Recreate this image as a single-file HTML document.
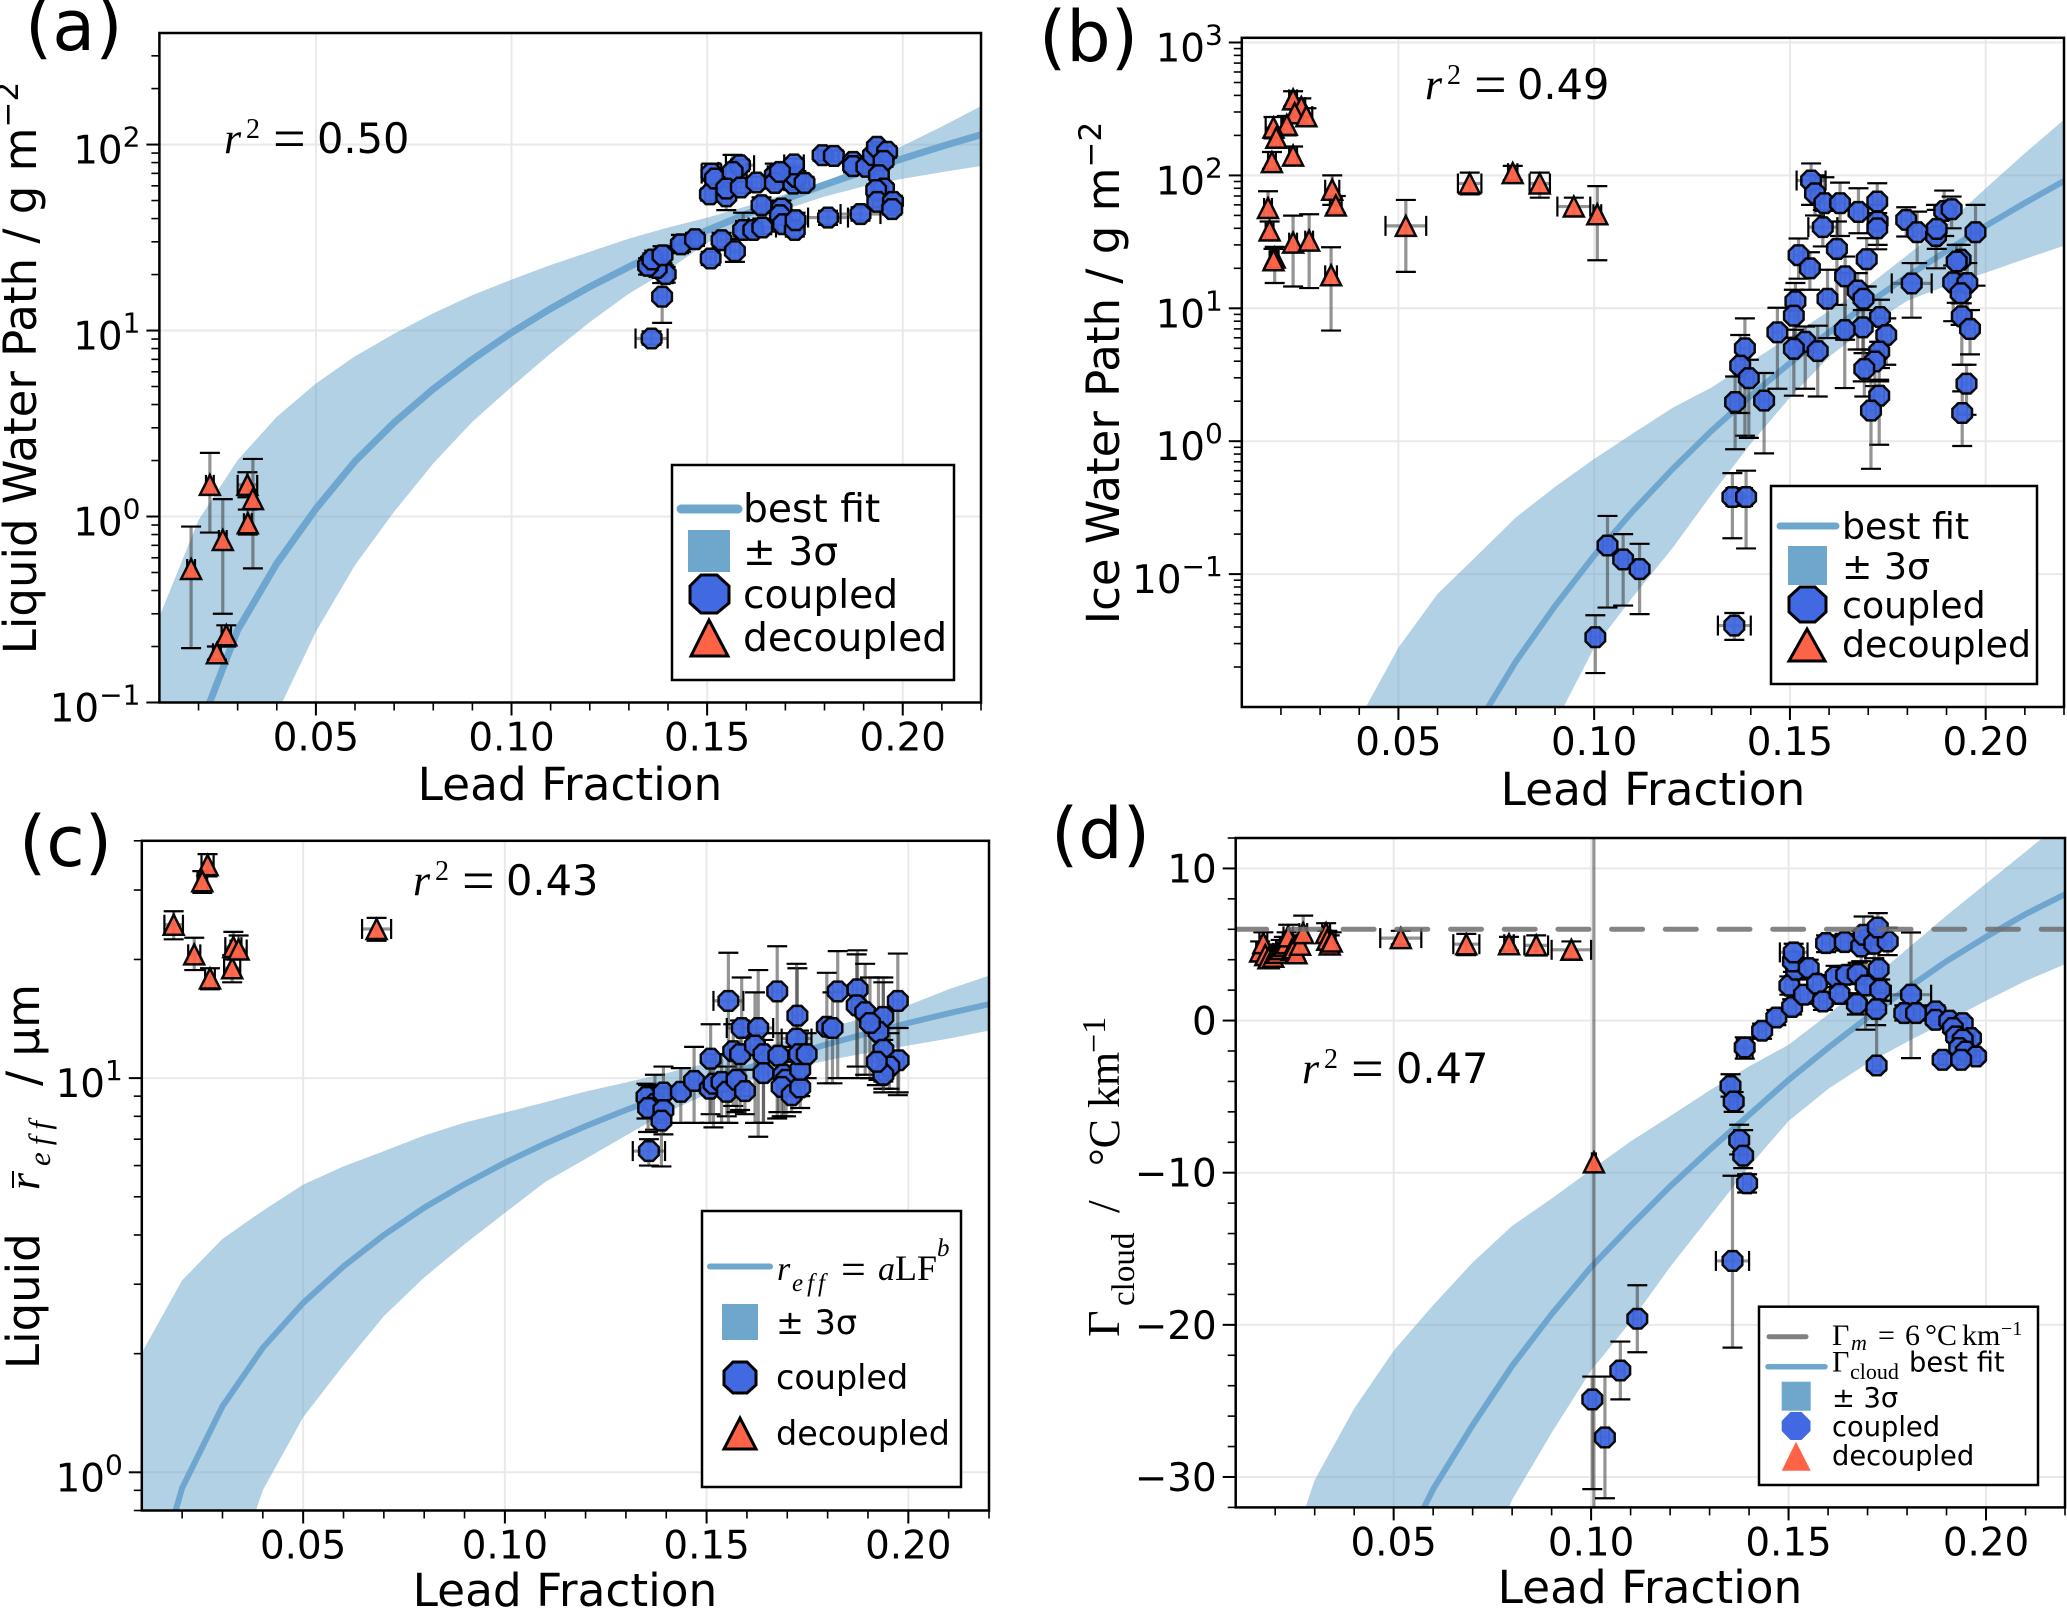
<!DOCTYPE html>
<html lang="en">
<head>
<meta charset="utf-8">
<title>Lead Fraction regressions</title>
<style>
html,body{margin:0;padding:0;background:#fff;}
body{position:relative;width:2067px;height:1609px;overflow:hidden;}
svg{display:block;}
text{font-family:"DejaVu Sans",sans-serif;fill:#000;}
.serif{font-family:"Liberation Serif",serif;}
.it{font-family:"Liberation Serif",serif;font-style:italic;}
.xtitle{position:absolute;height:36px;line-height:36px;font-size:45.4px;font-family:"DejaVu Sans",sans-serif;color:#000;text-align:center;white-space:nowrap;}
</style>
</head>
<body>
<svg id="fig" xmlns="http://www.w3.org/2000/svg" width="2067" height="1609" viewBox="0 0 2067 1609">
<rect width="2067" height="1609" fill="#fff"/>
<defs>
<clipPath id="clip-a"><rect x="159.4" y="33" width="821.6" height="669.5"/></clipPath>
<clipPath id="clip-b"><rect x="1241.8" y="37.8" width="822.2" height="669.2"/></clipPath>
<clipPath id="clip-c"><rect x="141.8" y="840.8" width="847.2" height="669.7"/></clipPath>
<clipPath id="clip-d"><rect x="1235.7" y="838" width="829.3" height="669.4"/></clipPath>
</defs>

<!-- Panel A -->
<g>
<g id="plot-a"></g>
<text x="25" y="50" font-size="70">(a)</text>
<text x="570" y="800" font-size="45.4" text-anchor="middle">Lead Fraction</text>
<text transform="translate(36,368) rotate(-90)" font-size="45" text-anchor="middle">Liquid Water Path / g m<tspan font-size="31" dy="-18">−2</tspan></text>
<g>
<text class="it" x="224" y="153" font-size="44">r</text><text class="serif" x="246" y="138" font-size="28">2</text><text class="serif" x="273" y="158" font-size="58">=</text><text x="317" y="153" font-size="41.5">0.50</text>
</g>
<g>
<rect x="672" y="465" width="282" height="215" fill="#fff" stroke="#000" stroke-width="2.5"/>
<line x1="681" y1="509" x2="738" y2="509" stroke="#6ea6cc" stroke-width="9" stroke-linecap="round"/>
<text x="743" y="522" font-size="39.2">best fit</text>
<rect x="688" y="530" width="42" height="42" fill="#6ea6cc"/>
<text x="743" y="565" font-size="39.2">± 3σ</text>
<polygon points="701,575 717,575 729,586 729,603 717,613 701,613 690,603 690,586" fill="#4169e1" stroke="#000" stroke-width="3"/>
<text x="743" y="608" font-size="39.2">coupled</text>
<polygon points="709,620 728,656 691,656" fill="#ff6347" stroke="#000" stroke-width="3"/>
<text x="743" y="651" font-size="39.2">decoupled</text>
</g>
</g>

<!-- Panel B -->
<g>
<g id="plot-b"></g>
<text x="1039" y="61" font-size="70">(b)</text>
<text x="1653" y="805" font-size="45.4" text-anchor="middle">Lead Fraction</text>
<text transform="translate(1119,373) rotate(-90)" font-size="45" text-anchor="middle">Ice Water Path / g m<tspan font-size="31" dy="-18">−2</tspan></text>
<g>
<text class="it" x="1425" y="99" font-size="44">r</text><text class="serif" x="1447" y="84" font-size="28">2</text><text class="serif" x="1474" y="104" font-size="58">=</text><text x="1517" y="99" font-size="41.5">0.49</text>
</g>
<g>
<rect x="1771" y="486" width="266" height="198" fill="#fff" stroke="#000" stroke-width="2.5"/>
<line x1="1780" y1="526" x2="1836" y2="526" stroke="#6ea6cc" stroke-width="7" stroke-linecap="round"/>
<text x="1842" y="539" font-size="36.3">best fit</text>
<rect x="1788" y="546" width="39" height="39" fill="#6ea6cc"/>
<text x="1842" y="579" font-size="36.3">± 3σ</text>
<polygon points="1800,587 1815,587 1826,597 1826,612 1815,622 1800,622 1789,612 1789,597" fill="#4169e1" stroke="#000" stroke-width="3"/>
<text x="1842" y="618" font-size="36.3">coupled</text>
<polygon points="1807,629 1825,661 1789,661" fill="#ff6347" stroke="#000" stroke-width="3"/>
<text x="1842" y="657" font-size="36.3">decoupled</text>
</g>
</g>

<!-- Panel C -->
<g>
<g id="plot-c"></g>
<text x="19" y="866" font-size="70">(c)</text>
<g>
<text transform="translate(39,1369) rotate(-90)" font-size="45">Liquid</text>
<text class="it" transform="translate(39,1190) rotate(-90)" font-size="44">r</text>
<line x1="13" y1="1188" x2="13" y2="1171" stroke="#000" stroke-width="2"/>
<text class="it" transform="translate(50,1166) rotate(-90)" font-size="31" letter-spacing="7">eff</text>
<text transform="translate(39,1086) rotate(-90)" font-size="45">/ µm</text>
</g>
<g>
<text class="it" x="413" y="895" font-size="44">r</text><text class="serif" x="435" y="880" font-size="28">2</text><text class="serif" x="462" y="900" font-size="58">=</text><text x="506" y="895" font-size="41.5">0.43</text>
</g>
<g>
<rect x="702" y="1211" width="259" height="276" fill="#fff" stroke="#000" stroke-width="2.5"/>
<line x1="710" y1="1266.5" x2="770" y2="1266.5" stroke="#6ea6cc" stroke-width="6" stroke-linecap="round"/>
<g>
<text class="it" x="777" y="1280" font-size="34">r</text>
<text class="it" x="792" y="1291" font-size="25" letter-spacing="4">eff</text>
<text class="serif" x="841" y="1284" font-size="44">=</text>
<text class="it" x="878" y="1280" font-size="34">a</text>
<text class="serif" x="895" y="1280" font-size="36">LF</text>
<text class="it" x="937" y="1256" font-size="25">b</text>
</g>
<rect x="722" y="1304" width="36" height="36" fill="#6ea6cc"/>
<text x="776" y="1334" font-size="33.4">± 3σ</text>
<polygon points="733,1362 747,1362 756,1371 756,1385 747,1393 733,1393 724,1385 724,1371" fill="#4169e1" stroke="#000" stroke-width="3"/>
<text x="776" y="1389" font-size="33.4">coupled</text>
<polygon points="740,1418 756,1449 724,1449" fill="#ff6347" stroke="#000" stroke-width="3"/>
<text x="776" y="1445" font-size="33.4">decoupled</text>
</g>
</g>

<!-- Panel D -->
<g>
<g id="plot-d"></g>
<text x="1051" y="858" font-size="70">(d)</text>
<g>
<text class="serif" transform="translate(1119,1337) rotate(-90)" font-size="46">Γ</text>
<text class="serif" transform="translate(1134,1306) rotate(-90)" font-size="33">cloud</text>
<text class="serif" transform="translate(1119,1213) rotate(-90)" font-size="46">/</text>
<text class="serif" transform="translate(1119,1166) rotate(-90)" font-size="44">°C km</text>
<text class="serif" transform="translate(1105,1053) rotate(-90)" font-size="34">−1</text>
</g>
<g>
<text class="it" x="1302" y="1083" font-size="44">r</text><text class="serif" x="1324" y="1068" font-size="28">2</text><text class="serif" x="1351" y="1088" font-size="58">=</text><text x="1396" y="1083" font-size="41.5">0.47</text>
</g>
<g>
<rect x="1759" y="1306.7" width="279" height="178.3" fill="#fff" stroke="#000" stroke-width="2.5"/>
<line x1="1769" y1="1336.7" x2="1806" y2="1336.7" stroke="#808080" stroke-width="5" stroke-linecap="round"/>
<g>
<text class="serif" x="1832" y="1345" font-size="30">Γ</text>
<text class="it" x="1851" y="1350" font-size="22">m</text>
<text class="serif" x="1878" y="1345" font-size="30">=</text>
<text class="serif" x="1905" y="1345" font-size="30">6</text>
<text class="serif" x="1925" y="1345" font-size="30">°C</text>
<text class="serif" x="1962" y="1345" font-size="30">km</text>
<text class="serif" x="2001" y="1335" font-size="20">−1</text>
</g>
<line x1="1768" y1="1366.7" x2="1825" y2="1366.7" stroke="#6ea6cc" stroke-width="5.5" stroke-linecap="round"/>
<g>
<text class="serif" x="1832" y="1371.7" font-size="30">Γ</text>
<text class="serif" x="1850" y="1379" font-size="22">cloud</text>
<text x="1909" y="1371.7" font-size="27.3">best fit</text>
</g>
<rect x="1781.7" y="1381.7" width="29" height="29" fill="#6ea6cc"/>
<text x="1832" y="1407" font-size="27.3">± 3σ</text>
<polygon points="1790.5,1412 1801.5,1412 1810.5,1421 1810.5,1431 1801.5,1440 1790.5,1440 1781.7,1431 1781.7,1421" fill="#4169e1"/>
<text x="1832" y="1436" font-size="27.3">coupled</text>
<polygon points="1796,1441.7 1810.7,1470.7 1781.7,1470.7" fill="#ff6347"/>
<text x="1832" y="1465" font-size="27.3">decoupled</text>
</g>
</g>
</svg>
<div class="xtitle" style="left:265px;width:600px;top:1573px;">Lead Fraction</div>
<div class="xtitle" style="left:1350px;width:600px;top:1570px;">Lead Fraction</div>

<script>
/* Shared grid for the fitted curves */
const fitLF = [0.01,0.02,0.03,0.04,0.05,0.06,0.07,0.08,0.09,0.10,0.11,0.12,0.13,0.14,0.15,0.16,0.17,0.18,0.19,0.20,0.21,0.22];
const xTickValues = [0.05,0.10,0.15,0.20];
const xTickLabels = ['0.05','0.10','0.15','0.20'];

/* Panel A: liquid water path */
const aYExponents = [-1,0,1,2];
const aFit = [0.008,0.07,0.245,0.56,1.10,1.98,3.2,4.85,7.0,9.75,13.1,17.2,22,27.9,34.6,42.3,50.9,60.8,71.8,84.1,97.9,113];
const aUpper = [0.289,0.957,2.01,3.44,5.19,7.28,9.6,12.4,15.5,18.8,22.5,26.5,31.2,35.8,40.5,46.5,54.2,63.4,76.7,98.6,125,161];
const aLower = [0.0003,0.004,0.025,0.087,0.24,0.548,1.06,1.93,3.23,4.98,7.53,11.1,15.8,21.1,29.7,37,44.8,52.5,59.6,65.5,71.1,76.7];
const aCoupledLF = [.1358,.1385,.1394,.1371,.1349,.1360,.1386,.1433,.1469,.1509,.1537,.1571,.1592,.1618,.1641,.1639,.1690,.1686,.1694,.1724,.1726,.1809,.1892,.1507,.1549,.1511,.1520,.1584,.1565,.1549,.1586,.1626,.1673,.1673,.1720,.1728,.1749,.1722,.1686,.1795,.1824,.1873,.1873,.1907,.1924,.1934,.1960,.1951,.1939,.1952,.1932,.1935,.1975,.1973];
const aCoupledY = [9.06,15.2,20.1,21.7,22.3,24.1,25.4,29.1,31,24.4,30.6,26.7,34.7,34.7,35.8,47.2,45.3,41.7,37.3,34.7,39.2,40.5,42.3,54,52.7,69.8,65.6,77.4,71.3,58,58.8,62.5,68.4,62.2,61.7,67,62.2,78.2,71.3,87.7,86.9,80.7,76.6,75.9,87.7,97.3,91.4,81.7,68.4,58,56.9,49.2,49.2,45];
const aCoupledLo = [8.4,11,18.1,19.8,20,22,23,26.5,28.5,22.5,28,23.4,32,32,33,43,41,38,34,32,36,37,39,50,44.4,64,60,72,65,54,55,58,63,58,57,62,58,73,66,82,81,75,71,70,82,91,85,76,64,54,53,46,46,42];
const aCoupledHi = [9.9,18,22,23.8,24.5,26,28.4,32.7,33.5,26.5,33.5,31,43,38,40,52,50,46,41,38,43,44,46,58,60,79,71,83,88,62,63,67,79,67,66,72,67,84,77,93,93,86,82,81,93,103,98,87,73,62,61,53,53,48];
const aCoupledXErr = [.0041,.0012,.0018,.0018,.0018,.0018,.0012,.0018,.0012,.0012,.0012,.0012,.0018,.0012,.0035,.0012,.0012,.0012,.0012,.0012,.0012,.0051,.0051,.0012,.0012,.0025,.0012,.0036,.0036,.0012,.0012,.0012,.0018,.0012,.0012,.0012,.0012,.0025,.0012,.0012,.0012,.0012,.0012,.0012,.0012,.0012,.0012,.0012,.0012,.0012,.0012,.0012,.0012,.0012];
const aDecoupledLF = [.0181,.0229,.0262,.0271,.0247,.0325,.0339,.0326];
const aDecoupledY = [.522,1.48,.748,.23,.184,1.48,1.24,.92];
const aDecoupledLo = [.196,.82,.3,.2,.17,1.27,.526,.8];
const aDecoupledHi = [.883,2.2,1.24,.26,.2,1.73,2.04,1.09];
const aDecoupledXErr = [.001,.001,.001,.0012,.001,.0025,.001,.001];

/* Panel B: ice water path */
const bYExponents = [-1,0,1,2,3];
const bFit = [8e-10,2.4e-7,6.8e-6,7.2e-5,4.6e-4,.002,.0072,.022,.0575,.138,.30,.617,1.2,2.2,3.87,6.6,10.9,17.4,27,41.7,62,90.7];
const bUpper = [1e-9,1e-6,2.5e-4,.0081,.028,.071,.137,.267,.453,.736,1.15,1.78,2.54,3.95,6.13,9.54,14.8,25.2,42.8,79.8,147,262];
const bLower = [1e-17,1e-13,1e-10,1e-8,1e-6,2e-5,2e-4,.0015,.0075,.028,.068,.157,.397,.96,2.13,4.31,7.32,11.4,14.8,18.5,23.5,29.6];
const bCoupledLF = [.1554,.1564,.1588,.1628,.1675,.1723,.1724,.1723,.1584,.1620,.1696,.1522,.1551,.1641,.1673,.1688,.1596,.1514,.1510,.1730,.1686,.1640,.1468,.1539,.1510,.1571,.1746,.1728,.1717,.1690,.1728,.1707,.1385,.1373,.1395,.1360,.1434,.1797,.1825,.1811,.1894,.1913,.1873,.1875,.1974,.1936,.1926,.1917,.1953,.1936,.1939,.1960,.1951,.1940,.1353,.1388,.1034,.1074,.1116,.1003,.1358];
const bCoupledY = [91.5,73.4,61.8,61.8,53.1,63.6,45,40,40.8,28,23.4,25.1,20,17.4,13.6,11.8,11.8,11.3,8.8,8.6,7.2,6.85,6.6,5.6,4.96,4.76,6.3,4.73,3.98,3.5,2.2,1.7,5,3.7,2.98,1.97,2.02,46.3,37.4,15.4,54,55.7,35,39.6,37.4,23.2,22.5,15.7,15.5,13,8.7,7,2.71,1.63,.38,.38,.164,.129,.109,.0335,.041];
const bCoupledLo = [60,50,54.1,35,36.7,40,30,27.8,29.2,10.6,14.6,16.7,13.8,5.8,4.9,4.6,5.97,6,6,3.55,2.82,2.51,2.48,2.48,2.2,2.17,3.76,2.82,2.6,2.17,.94,.62,1.1,1.63,1.06,.87,.81,34.7,21.9,8.5,35,40,20,28,14.8,10.9,11,8,9.7,7.5,3.76,4.5,1.58,.92,.186,.156,.056,.058,.05,.018,.032];
const bCoupledHi = [123,100,96.9,88.3,80,87.3,60,52,55,45,33.7,33.5,26.4,24.5,18.4,14.6,19.5,15.5,13.8,11.6,9.7,18.4,10.1,7.3,6.9,7.4,8.4,5.6,4.9,4.9,2.9,2.82,8.4,6.3,4.1,3.07,3.26,57.6,53.4,21.9,76.9,69.3,60,55,60,30,30,21,21.9,18,10.9,9.7,3.76,2.37,.575,.6,.274,.2,.169,.049,.051];
const bCoupledXErr = [.0037,.0012,.0012,.0012,.0012,.0012,.0012,.0012,.0037,.0012,.0012,.0012,.0012,.0012,.0012,.0012,.0012,.0012,.0012,.0012,.0012,.0012,.0012,.0012,.0012,.0012,.0012,.0012,.0012,.0012,.0012,.0012,.0012,.0012,.0012,.0012,.0012,.0012,.0012,.0051,.0012,.0012,.0012,.0012,.0012,.0012,.0012,.0012,.0012,.0012,.0012,.0012,.0012,.0012,.0015,.0015,.0012,.0012,.0012,.0012,.0042];
const bDecoupledLF = [.0231,.0252,.0235,.0265,.0215,.0181,.0188,.0177,.0231,.0167,.0171,.0184,.0181,.0231,.0272,.0328,.0331,.0340,.0519,.0682,.0792,.0861,.0948,.1008];
const bDecoupledY = [373,327,294,279,240,229,192,126,141,56.9,38.5,24.1,23,31.2,32.3,17.7,78,59.4,41.7,86.9,104,86.9,58.3,51];
const bDecoupledLo = [330,290,250,240,200,190,165,112,120,48,33,15.5,20,14.6,14.2,6.8,60,52,18.8,72,92,68,50,23];
const bDecoupledHi = [430,380,340,320,280,275,225,150,165,76,45,29,28,49.8,51,28.8,100,70,65.4,105,118,105,68,83];
const bDecoupledXErr = [.001,.001,.001,.0015,.001,.002,.001,.001,.001,.001,.001,.001,.001,.001,.001,.0015,.0018,.0015,.0052,.003,.0012,.0026,.0042,.001];

/* Panel C: liquid effective radius */
const cYExponents = [0,1];
const cFit = [.403,.912,1.47,2.07,2.69,3.33,4.0,4.69,5.38,6.1,6.82,7.55,8.3,9.06,9.84,10.6,11.4,12.2,13,13.8,14.6,15.4];
const cUpper = [2.01,3.07,3.91,4.61,5.37,5.97,6.53,7.15,7.71,8.18,8.69,9.25,9.75,10.3,10.9,11.6,12.5,13.4,14.3,15.3,16.8,18.2];
const cLower = [.07,.2,.45,.9,1.38,1.87,2.49,3.12,3.79,4.55,5.45,6.24,7.15,8.18,9.1,9.8,10.5,11.1,11.6,12.1,12.6,13.2];
const cCoupledLF = [.1351,.1372,.1355,.1393,.1393,.1388,.1357,.1436,.1469,.1510,.1508,.1517,.1537,.1550,.1554,.1574,.1595,.1587,.1628,.1566,.1583,.1620,.1641,.1641,.1675,.1678,.1690,.1697,.1686,.1711,.1732,.1732,.1725,.1723,.1729,.1748,.1798,.1812,.1825,.1874,.1872,.1893,.1938,.1974,.1926,.1905,.1938,.1976,.1953,.1938,.1922];
const cCoupledY = [8.96,8.6,8.4,9.19,8.3,7.8,6.53,9.23,9.84,11.2,9.4,9.68,9.78,9.23,15.7,9.9,9.27,13.4,13.4,11.7,11.5,12.1,11.5,10.3,16.6,11.4,10.2,9.9,9.5,9.05,9.47,10.5,14.4,12.6,11.5,11.5,13.5,13.4,16.6,16.8,15.3,14.7,14.3,15.7,13.1,13.8,11.8,11.1,10.7,10.2,11];
const cCoupledLo = [7.9,7.4,7.3,7.7,7.2,5.97,6,7.7,7.7,8.1,7.7,7.5,7.7,8,7.7,8.2,8.1,9,7.1,8.5,8.3,7.7,7.7,7.7,7.9,8.2,8,8,8,8.2,8.4,9,9,10,9.7,10,9.7,9.7,10,10,10.7,10.2,9.8,9.05,9.9,10,9.4,9.2,9.4,9.2,9.6];
const cCoupledHi = [9.68,10.2,9.6,10.7,9.4,9.5,7,10.6,12,13.7,11,11.5,11.5,10.7,20.8,11.8,10.5,18,18.8,13.7,14,16.5,13,12.5,21.6,13,12,12,11,10,10.6,12,19,19.5,13.2,13,18.5,16.5,21,21.1,20.6,19.5,18,20.7,18,18,17.5,13.4,13,12.5,13];
const cCoupledXErr = [.0012,.0012,.0012,.0012,.0012,.0012,.004,.0012,.0012,.0012,.0012,.0012,.0012,.0012,.0037,.0012,.0012,.0037,.0037,.0012,.0012,.0012,.0012,.0012,.0012,.0012,.0012,.0012,.0012,.0012,.0012,.0012,.0012,.0037,.0012,.0012,.0012,.0012,.0012,.0012,.0012,.0012,.0012,.0012,.0012,.0012,.0012,.0012,.0012,.0012,.0012];
const cDecoupledLF = [.0179,.0263,.0250,.0230,.0269,.0324,.0327,.0340,.0682];
const cDecoupledY = [24.5,34.7,31.6,20.6,17.9,19,21.5,21.2,23.9];
const cDecoupledLo = [22.5,32.5,29.5,18.8,16.8,17.5,20,20,22.3];
const cDecoupledHi = [26.5,37,33.5,22.7,19,20.5,23.5,23,25.5];
const cDecoupledXErr = [.0023,.0015,.0012,.0015,.0012,.002,.002,.002,.0036];

/* Panel D: in-cloud lapse rate */
const dYTicks = [10,0,-10,-20,-30];
const dYTickLabels = ['10','0','−10','−20','−30'];
const dReference = [6];
const dFit = [-80,-65,-52,-42,-36,-30.8,-26.6,-22.7,-19.3,-16.2,-13.5,-10.9,-8.5,-6.2,-3.9,-1.8,.2,2.1,3.9,5.5,7.0,8.3];
const dUpper = [-50,-38,-30.2,-25.5,-21.7,-18.7,-15.9,-13.5,-11.7,-9.8,-7.94,-6.28,-4.59,-3.01,-1.59,.4,2.5,4.7,6.9,9.0,11.1,13.2];
const dLower = [-95,-85,-75,-65,-55,-45,-38,-31.5,-27.1,-23,-19.8,-16.2,-12.9,-9.6,-6.6,-4.5,-2.8,-1.4,-.07,1.3,2.6,3.7];
const dCoupledLF = [.1353,.1361,.1375,.1385,.1395,.1358,.1117,.1074,.1003,.1035,.1389,.1433,.1469,.1509,.1502,.1519,.1511,.1513,.1551,.1539,.1572,.1587,.1595,.1642,.1619,.1646,.1629,.1675,.1673,.1695,.1732,.1728,.1722,.1684,.1690,.1717,.1751,.1726,.1723,.1810,.1793,.1823,.1872,.1872,.1907,.1941,.1916,.1924,.1962,.1941,.1932,.1949,.1975,.1890,.1937];
const dCoupledY = [-4.3,-5.32,-7.86,-8.88,-10.7,-15.8,-19.6,-23,-24.9,-27.4,-1.77,-.67,.2,.89,2.29,3.34,3.89,4.48,3.45,1.7,2.42,1.26,5.09,5.16,2.9,3.01,1.76,3.07,1.08,2.31,2.02,3.38,.75,4.87,5.64,5.05,5.2,6.12,-2.95,1.7,.49,.49,.6,.05,-.01,-.17,-.49,-1.04,-1.15,-1.26,-1.8,-2.03,-2.36,-2.58,-2.58];
const dCoupledLo = [-5,-6,-8.8,-9.7,-11.3,-21.5,-21.8,-24.9,-30.8,-31.4,-2.5,-1.2,-.3,.4,1.7,2.7,3.2,3.8,2.9,1.1,1.8,.7,4.5,4.6,2.2,2.4,1.1,2.4,.4,-.6,1.3,2.7,-.3,3.9,4.5,4.1,4.3,5,-3.3,-2.47,0,0,.2,-.3,-.3,-.5,-.8,-1.4,-1.5,-1.6,-2.1,-2.4,-2.7,-2.9,-2.9];
const dCoupledHi = [-3.53,-4.7,-6.85,-7.2,-10.1,-10.2,-17.4,-21.1,-23.4,-23.4,-1.1,-.2,.7,1.4,2.9,3.9,4.4,5.05,4,2.3,3,1.8,5.6,5.7,3.6,3.6,2.4,3.8,1.8,4.4,2.7,5.2,1.8,5.9,6.84,6,6.1,7.06,.7,5.79,1,1,1,.4,.3,.15,-.2,-.7,-.8,-.9,-1.5,-1.7,-2,-2.2,-2.2];
const dCoupledXErr = [.001,.001,.001,.001,.001,.0042,.001,.001,.001,.001,.002,.001,.001,.001,.001,.001,.001,.0035,.001,.001,.001,.001,.001,.001,.001,.001,.001,.001,.001,.002,.0015,.001,.001,.001,.001,.001,.001,.001,.001,.0051,.001,.001,.001,.001,.001,.001,.001,.001,.001,.001,.001,.001,.001,.001,.001];
const dDecoupledLF = [.0162,.0170,.0175,.0183,.0195,.0205,.0214,.0222,.0229,.0233,.0242,.0248,.0254,.0263,.0271,.0329,.0332,.0338,.0343,.0518,.0684,.0792,.0861,.0950,.1007];
const dDecoupledY = [4.54,5.09,4.3,4.1,4.2,4.45,4.7,4.9,5.09,5.53,4.65,4.75,4.43,4.98,5.75,5.75,5.31,5.0,5.2,5.42,5.02,5.02,4.94,4.65,-9.32];
const dDecoupledLo = [3.9,4.3,3.7,3.6,3.7,3.9,4.1,4.3,4.4,4.9,4.1,4.2,3.9,4.4,5.2,5.2,4.7,4.5,4.6,5.0,4.3,4.6,4.3,4.1,-36];
const dDecoupledHi = [5.2,5.8,4.9,4.7,4.8,5.0,5.3,5.5,5.8,6.3,5.2,5.3,5.0,5.6,6.9,6.4,5.9,5.6,5.8,5.9,5.7,5.5,5.6,5.2,20];
const dDecoupledXErr = [.001,.001,.001,.001,.001,.001,.0012,.001,.001,.0012,.001,.001,.001,.001,.001,.001,.001,.001,.001,.0052,.0033,.0012,.003,.005,.0005];

const NS = 'http://www.w3.org/2000/svg';
const STEM = 'rgba(60,60,60,0.55)';

function mk(tag, attrs, parent) {
  const el = document.createElementNS(NS, tag);
  for (const k in attrs) el.setAttribute(k, attrs[k]);
  parent.appendChild(el);
  return el;
}

function octagonPoints(cx, cy, r) {
  const pts = [];
  for (let i = 0; i < 8; i++) {
    const a = Math.PI / 8 + i * Math.PI / 4;
    pts.push((cx + r * Math.cos(a)).toFixed(1) + ',' + (cy + r * Math.sin(a)).toFixed(1));
  }
  return pts.join(' ');
}

function trianglePoints(cx, cy, r) {
  return cx.toFixed(1) + ',' + (cy - r).toFixed(1) + ' ' + (cx + r).toFixed(1) + ',' + (cy + r).toFixed(1) + ' ' + (cx - r).toFixed(1) + ',' + (cy + r).toFixed(1);
}

/* Curve vertices, trimmed where they leave the plot through its bottom edge.
   Walks right to left, interpolating the crossing so visible geometry is unchanged. */
function curvePoints(values, xS, yS, bottom) {
  const limit = bottom + 4;
  const pts = [];
  let crossed = false;
  for (let i = fitLF.length - 1; i >= 0; i--) {
    const x = xS(fitLF[i]), y = yS(values[i]);
    if (crossed) {
      pts.push(x.toFixed(1) + ',' + limit.toFixed(1));
    } else if (y <= limit) {
      pts.push(x.toFixed(1) + ',' + y.toFixed(1));
    } else {
      const px = xS(fitLF[i + 1]), py = yS(values[i + 1]);
      const t = (limit - py) / (y - py);
      pts.push((px + (x - px) * t).toFixed(1) + ',' + limit.toFixed(1));
      pts.push(x.toFixed(1) + ',' + limit.toFixed(1));
      crossed = true;
    }
  }
  return pts.reverse();
}

function drawErrors(g, xS, yS, lf, y, lo, hi, xe) {
  for (let i = 0; i < lf.length; i++) {
    const x = xS(lf[i]), yy = yS(y[i]);
    const stemY = mk('line', {x1:x, x2:x, y1:yS(lo[i]), y2:yS(hi[i]), stroke:STEM, 'stroke-width':3.2}, g);
    
    
    const stemX = mk('line', {x1:xS(lf[i]-xe[i]), x2:xS(lf[i]+xe[i]), y1:yy, y2:yy, stroke:STEM, 'stroke-width':3.2}, g);
    
    
    [lo[i], hi[i]].forEach(function (v) {
      const cap = mk('line', {x1:x-10, x2:x+10, y1:yS(v), y2:yS(v), stroke:'#000', 'stroke-width':2.2}, g);
      
      
    });
    [lf[i]-xe[i], lf[i]+xe[i]].forEach(function (v) {
      const cap = mk('line', {x1:xS(v), x2:xS(v), y1:yy-10, y2:yy+10, stroke:'#000', 'stroke-width':2.2}, g);
      
      
    });
  }
}

function drawCoupled(g, xS, yS, lf, y) {
  for (let i = 0; i < lf.length; i++) {
    const m = mk('polygon', {points:octagonPoints(xS(lf[i]), yS(y[i]), 10.6), fill:'#4169e1', stroke:'#000', 'stroke-width':2.5, opacity:0.95}, g);
    
    
  }
}

function drawDecoupled(g, xS, yS, lf, y) {
  for (let i = 0; i < lf.length; i++) {
    const m = mk('polygon', {points:trianglePoints(xS(lf[i]), yS(y[i]), 10), fill:'#ff6347', stroke:'#000', 'stroke-width':2.5, opacity:0.95}, g);
    
    
  }
}

function drawPanel(p) {
  const root = document.getElementById('plot-' + p.id);
  const xS = function (v) { return p.l + (v - 0.01) / 0.21 * (p.r - p.l); };
  const yS = p.log
    ? function (v) { return p.b - (Math.log10(v) - Math.log10(p.ymin)) / (Math.log10(p.ymax) - Math.log10(p.ymin)) * (p.b - p.t); }
    : function (v) { return p.b - (v - p.ymin) / (p.ymax - p.ymin) * (p.b - p.t); };

  const clip = mk('g', {'clip-path':'url(#clip-' + p.id + ')'}, root);
  
  

  /* gridlines */
  xTickValues.forEach(function (v) {
    const gl = mk('line', {x1:xS(v), x2:xS(v), y1:p.t, y2:p.b, stroke:'#e9e9e9', 'stroke-width':2}, clip);
    
    
  });
  p.yTicks.forEach(function (v) {
    const gl = mk('line', {x1:p.l, x2:p.r, y1:yS(v), y2:yS(v), stroke:'#e9e9e9', 'stroke-width':2}, clip);
    
    
  });

  /* band and fit */
  const up = curvePoints(p.upper, xS, yS, p.b);
  const dn = curvePoints(p.lower, xS, yS, p.b).reverse();
  const band = mk('polygon', {points:up.concat(dn).join(' '), fill:'#6ea6cb', 'fill-opacity':0.52}, clip);
  
  
  const fit = mk('polyline', {points:curvePoints(p.fit, xS, yS, p.b).join(' '), fill:'none', stroke:'#6ea6cf', 'stroke-width':p.fitW}, clip);
  
  

  /* error bars then markers */
  drawErrors(clip, xS, yS, p.dLF, p.dY, p.dLo, p.dHi, p.dX);
  drawErrors(clip, xS, yS, p.cLF, p.cY, p.cLo, p.cHi, p.cX);
  drawDecoupled(clip, xS, yS, p.dLF, p.dY);
  drawCoupled(clip, xS, yS, p.cLF, p.cY);

  if (p.reference) {
    p.reference.forEach(function (v) {
      const ref = mk('line', {x1:p.l, x2:p.r, y1:yS(v), y2:yS(v), stroke:'rgba(110,110,110,0.85)', 'stroke-width':5, 'stroke-dasharray':'31 22.7', 'stroke-linecap':'round'}, clip);
      
      
    });
  }

  /* x ticks */
  for (let t = 2; t <= 22; t++) {
    const v = t / 100;
    const tk = mk('line', {x1:xS(v), x2:xS(v), y1:p.b, y2:p.b + 8, stroke:'#000', 'stroke-width':1.6}, root);
    
    
  }
  xTickValues.forEach(function (v, i) {
    const tk = mk('line', {x1:xS(v), x2:xS(v), y1:p.b, y2:p.b + 13, stroke:'#000', 'stroke-width':2}, root);
    
    
    const lb = mk('text', {x:xS(v), y:p.b + p.xLabelDy, 'font-size':38.8, 'text-anchor':'middle'}, root);
    lb.textContent = xTickLabels[i];
    
    
  });

  /* y ticks */
  p.yMinor.forEach(function (v) {
    if (v < p.ymin || v > p.ymax) return;
    const tk = mk('line', {x1:p.l - 8, x2:p.l, y1:yS(v), y2:yS(v), stroke:'#000', 'stroke-width':1.6}, root);
    
    
  });
  p.yTicks.forEach(function (v, i) {
    const tk = mk('line', {x1:p.l - 13, x2:p.l, y1:yS(v), y2:yS(v), stroke:'#000', 'stroke-width':2}, root);
    
    
    const lb = mk('text', {x:p.l - 19, y:yS(v) + (p.log ? 19 : 14), 'font-size':38.8, 'text-anchor':'end'}, root);
    
    
    if (p.log) {
      lb.textContent = '10';
      const sup = mk('tspan', {'font-size':28, dy:-17}, lb);
      sup.textContent = p.yExp[i] < 0 ? '−' + Math.abs(p.yExp[i]) : String(p.yExp[i]);
    } else {
      lb.textContent = p.yLabels[i];
    }
  });

  /* spines */
  const frame = mk('rect', {x:p.l, y:p.t, width:p.r - p.l, height:p.b - p.t, fill:'none', stroke:'#000', 'stroke-width':2.5}, root);
  
  
}

function logMinor(minExp, maxExp) {
  const out = [];
  for (let e = minExp; e <= maxExp; e++) {
    for (let m = 2; m <= 9; m++) out.push(m * Math.pow(10, e));
  }
  return out;
}

function evenMinor() {
  const out = [];
  for (let v = -32; v <= 12; v += 2) out.push(v);
  return out;
}

drawPanel({id:'a', l:159.4, r:981, t:33, b:702.5, log:true, ymin:0.1, ymax:398, yExp:aYExponents,
  yTicks:aYExponents.map(function (e) { return Math.pow(10, e); }), yMinor:logMinor(-1, 2),
  fit:aFit, upper:aUpper, lower:aLower, fitW:7, xLabelDy:48,
  cLF:aCoupledLF, cY:aCoupledY, cLo:aCoupledLo, cHi:aCoupledHi, cX:aCoupledXErr,
  dLF:aDecoupledLF, dY:aDecoupledY, dLo:aDecoupledLo, dHi:aDecoupledHi, dX:aDecoupledXErr});

drawPanel({id:'b', l:1241.8, r:2064, t:37.8, b:707, log:true, ymin:0.01, ymax:1085, yExp:bYExponents,
  yTicks:bYExponents.map(function (e) { return Math.pow(10, e); }), yMinor:logMinor(-2, 2),
  fit:bFit, upper:bUpper, lower:bLower, fitW:6, xLabelDy:48,
  cLF:bCoupledLF, cY:bCoupledY, cLo:bCoupledLo, cHi:bCoupledHi, cX:bCoupledXErr,
  dLF:bDecoupledLF, dY:bDecoupledY, dLo:bDecoupledLo, dHi:bDecoupledHi, dX:bDecoupledXErr});

drawPanel({id:'c', l:141.8, r:989, t:840.8, b:1510.5, log:true, ymin:0.8, ymax:40, yExp:cYExponents,
  yTicks:cYExponents.map(function (e) { return Math.pow(10, e); }), yMinor:[0.8,0.9].concat(logMinor(0, 1)),
  fit:cFit, upper:cUpper, lower:cLower, fitW:6, xLabelDy:48,
  cLF:cCoupledLF, cY:cCoupledY, cLo:cCoupledLo, cHi:cCoupledHi, cX:cCoupledXErr,
  dLF:cDecoupledLF, dY:cDecoupledY, dLo:cDecoupledLo, dHi:cDecoupledHi, dX:cDecoupledXErr});

drawPanel({id:'d', l:1235.7, r:2065, t:838, b:1507.4, log:false, ymin:-32, ymax:12, yLabels:dYTickLabels,
  yTicks:dYTicks, yMinor:evenMinor(), reference:dReference,
  fit:dFit, upper:dUpper, lower:dLower, fitW:6, xLabelDy:48,
  cLF:dCoupledLF, cY:dCoupledY, cLo:dCoupledLo, cHi:dCoupledHi, cX:dCoupledXErr,
  dLF:dDecoupledLF, dY:dDecoupledY, dLo:dDecoupledLo, dHi:dDecoupledHi, dX:dDecoupledXErr});
</script>
</body>
</html>
